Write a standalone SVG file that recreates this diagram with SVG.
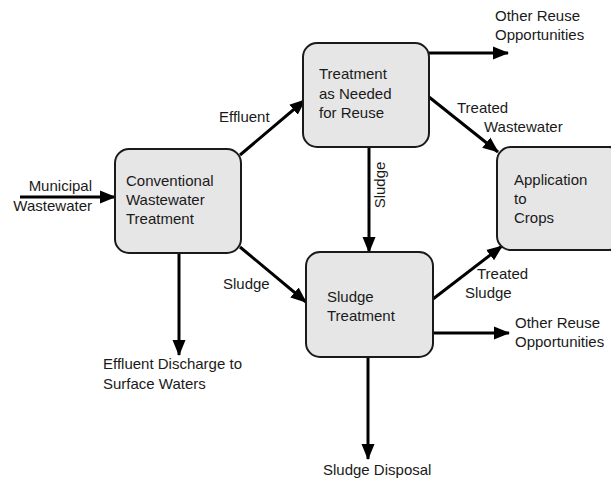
<svg xmlns="http://www.w3.org/2000/svg" width="611" height="479" viewBox="0 0 611 479">
<style>
.box{fill:#e6e6e6;stroke:#1a1a1a;stroke-width:2}
.t{font-family:"Liberation Sans",Arial,sans-serif;font-size:15px;fill:#1a1a1a}
.c{stroke:#000;stroke-width:3;fill:none;marker-end:url(#ah)}
</style>
<defs>
<marker id="ah" markerUnits="userSpaceOnUse" markerWidth="16" markerHeight="14" refX="15" refY="6.5" orient="auto" viewBox="0 0 16 13">
<path d="M0,0 L16,6.5 L0,13 z" fill="#000"/>
</marker>
</defs>
<rect width="611" height="479" fill="#fff"/>
<g id="connectors">
<line class="c" x1="20" y1="197" x2="115" y2="197"/>
<line class="c" x1="240" y1="155" x2="305" y2="100"/>
<line class="c" x1="240" y1="247" x2="306" y2="302"/>
<line class="c" x1="369" y1="147" x2="369" y2="252"/>
<line class="c" x1="429" y1="53" x2="508" y2="53"/>
<line class="c" x1="429" y1="97" x2="498" y2="152"/>
<line class="c" x1="433" y1="299" x2="502" y2="246"/>
<line class="c" x1="433" y1="333" x2="509" y2="333"/>
<line class="c" x1="179" y1="253" x2="179" y2="355"/>
<line class="c" x1="368" y1="357" x2="368" y2="459"/>
<text class="t" x="92" y="191" text-anchor="end">Municipal</text>
<text class="t" x="92" y="211" text-anchor="end">Wastewater</text>
<text class="t" x="219" y="122">Effluent</text>
<text class="t" x="223" y="289">Sludge</text>
<text class="t" transform="translate(385,185) rotate(-90)" text-anchor="middle">Sludge</text>
<text class="t" x="457" y="113">Treated</text>
<text class="t" x="484" y="132">Wastewater</text>
<text class="t" x="477" y="279">Treated</text>
<text class="t" x="465" y="298">Sludge</text>
</g>
<g id="conventional">
<rect class="box" x="115" y="149" width="126" height="104" rx="14"/>
<text class="t" x="126" y="186">Conventional</text>
<text class="t" x="126" y="205">Wastewater</text>
<text class="t" x="126" y="224">Treatment</text>
</g>
<g id="treatment-reuse">
<rect class="box" x="303" y="43" width="126" height="104" rx="14"/>
<text class="t" x="319" y="79">Treatment</text>
<text class="t" x="319" y="99">as Needed</text>
<text class="t" x="319" y="118">for Reuse</text>
</g>
<g id="sludge-treatment">
<rect class="box" x="306" y="252" width="127" height="105" rx="14"/>
<text class="t" x="327" y="302">Sludge</text>
<text class="t" x="327" y="321">Treatment</text>
</g>
<g id="application">
<rect class="box" x="497" y="147" width="126" height="103" rx="14"/>
<text class="t" x="514" y="185">Application</text>
<text class="t" x="514" y="204">to</text>
<text class="t" x="514" y="223">Crops</text>
</g>
<g id="other-reuse-top">
<text class="t" x="495" y="21">Other Reuse</text>
<text class="t" x="495" y="40">Opportunities</text>
</g>
<g id="other-reuse-bottom">
<text class="t" x="515" y="328">Other Reuse</text>
<text class="t" x="515" y="347">Opportunities</text>
</g>
<g id="effluent-discharge">
<text class="t" x="103" y="369">Effluent Discharge to</text>
<text class="t" x="103" y="389">Surface Waters</text>
</g>
<g id="sludge-disposal">
<text class="t" x="323" y="475">Sludge Disposal</text>
</g>
</svg>
